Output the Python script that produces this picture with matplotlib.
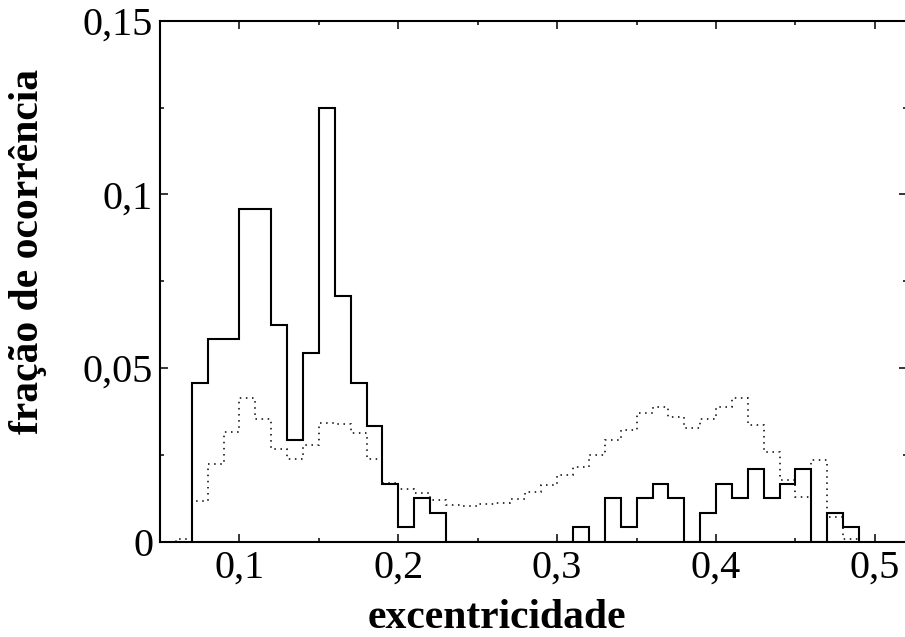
import numpy as np
import matplotlib
matplotlib.use("Agg")
import matplotlib.pyplot as plt
from matplotlib.ticker import MultipleLocator, FuncFormatter

# histograma observado (linha cheia), bins de 0.01 a partir de 0.07
obs_start = 0.07
obs_frac = [0.0458, 0.0583, 0.0583, 0.0958, 0.0958, 0.0625, 0.0292, 0.0542,
            0.1250, 0.0708, 0.0458, 0.0333, 0.0167, 0.0042, 0.0125, 0.0083,
            0, 0, 0, 0, 0, 0, 0, 0,
            0.0042, 0, 0.0125, 0.0042, 0.0125, 0.0167, 0.0125, 0,
            0.0083, 0.0167, 0.0125, 0.0208, 0.0125, 0.0167, 0.0208, 0,
            0.0083, 0.0042]

# distribuicao simulada (pontilhada), bins de 0.01 a partir de 0.06
sim_start = 0.06
sim_frac = [0.0007, 0.0118, 0.0225, 0.0317, 0.0413, 0.0354, 0.0268, 0.0239,
            0.0277, 0.0343, 0.0340, 0.0314, 0.0237, 0.0169, 0.0153, 0.0140,
            0.0121, 0.0106, 0.0103, 0.0109, 0.0111, 0.0124, 0.0142, 0.0162,
            0.0193, 0.0214, 0.0251, 0.0292, 0.0321, 0.0370, 0.0389, 0.0360,
            0.0326, 0.0354, 0.0389, 0.0415, 0.0336, 0.0259, 0.0179, 0.0129,
            0.0235, 0.0072, 0.0007]

bw = 0.01
obs_edges = obs_start + bw * np.arange(len(obs_frac) + 1)
sim_edges = sim_start + bw * np.arange(len(sim_frac) + 1)

plt.rcParams['font.family'] = ['Liberation Serif', 'DejaVu Serif']

fig = plt.figure(figsize=(9.05, 6.37), dpi=100)
ax = fig.add_axes([160/905, 1 - 541.7/637, 746.7/905, 521/637])

ax.stairs(obs_frac, obs_edges, baseline=0, color='black', lw=1.5)
ax.stairs(sim_frac, sim_edges, baseline=0, color='black', lw=1.1,
          linestyle=(0, (1, 3)))

ax.set_xlim(0.05, 0.52)
ax.set_ylim(0, 0.15)

ax.xaxis.set_major_locator(MultipleLocator(0.1))
ax.xaxis.set_minor_locator(MultipleLocator(0.05))
ax.yaxis.set_major_locator(MultipleLocator(0.05))
ax.yaxis.set_minor_locator(MultipleLocator(0.025))

fmt = FuncFormatter(lambda v, p: ('%g' % round(v, 3)).replace('.', ','))
ax.xaxis.set_major_formatter(fmt)
ax.yaxis.set_major_formatter(fmt)

ax.tick_params(which='both', direction='in', top=True, right=True, width=1.1,
               labelsize=29, colors='black')
ax.tick_params(which='major', length=6)
ax.tick_params(which='minor', length=3)
ax.tick_params(axis='x', which='major', pad=6)
ax.tick_params(axis='y', which='major', pad=5)
for s in ax.spines.values():
    s.set_linewidth(1.5)

fig.text(496.5/905, 9/637, 'excentricidade', ha='center', va='baseline',
         fontsize=30, fontweight='bold')
fig.text(28/905, 1 - 251/637, 'fração de ocorrência', ha='center', va='center',
         rotation=90, fontsize=30, fontweight='bold')

fig.savefig('out.png', dpi=100)
